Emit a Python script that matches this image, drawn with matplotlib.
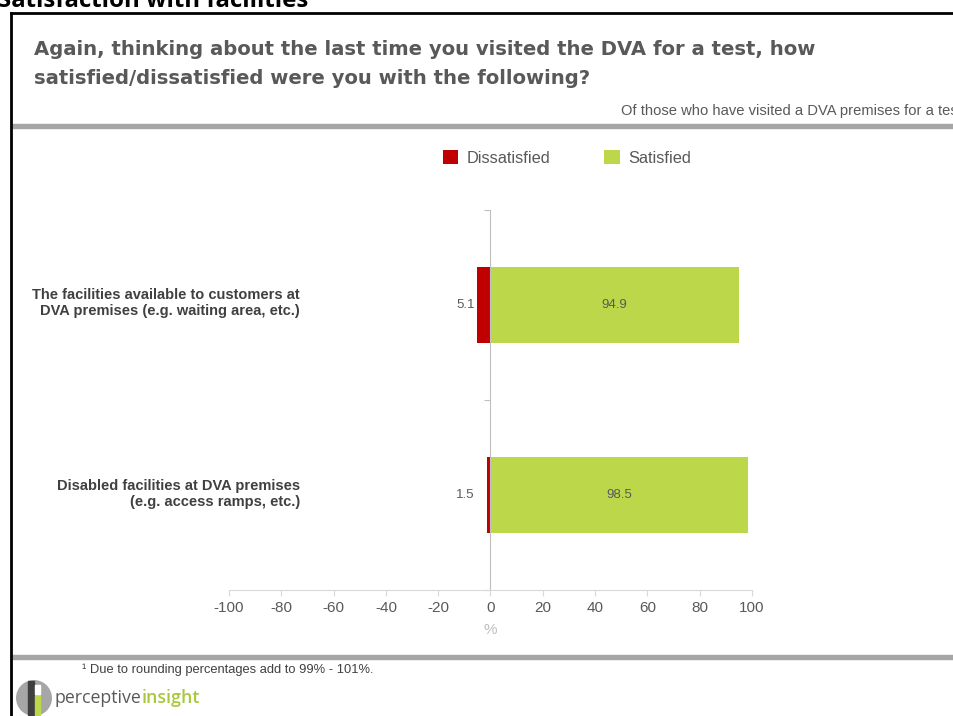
import numpy as np
import matplotlib
matplotlib.use('Agg')
from matplotlib import pyplot as plt
from matplotlib.patches import Rectangle, Circle

# data
categories = ['The facilities available to customers at\nDVA premises (e.g. waiting area, etc.)',
              'Disabled facilities at DVA premises\n(e.g. access ramps, etc.)']
dissatisfied = [5.1, 1.5]
satisfied = [94.9, 98.5]
series_names = ['Dissatisfied', 'Satisfied']
xticks = [-100, -80, -60, -40, -20, 0, 20, 40, 60, 80, 100]

RED = '#c00000'
GREEN = '#bdd74b'
GREY_TXT = '#595959'

W, H = 954, 716
fig = plt.figure(figsize=(W / 100, H / 100), dpi=100)
plt.rcParams['font.family'] = ['Liberation Sans', 'DejaVu Sans']

def fx(px):
    return px / W

def fy(py):
    return 1 - py / H

# page title (cut off at top)
fig.text(fx(-2), fy(7), 'Satisfaction with facilities', fontsize=17.3, fontweight='bold',
         family='Open Sans', va='baseline', ha='left', color='black')

# black frame
fig.add_artist(plt.Line2D([fx(11), fx(11)], [fy(13), 0], color='black', lw=2))
fig.add_artist(plt.Line2D([fx(11), 1], [fy(13), fy(13)], color='black', lw=2))

# question text
fig.text(fx(34), fy(64), 'Again, thinking about the last time you visited the DVA for a test, how\n'
         'satisfied/dissatisfied were you with the following?', fontsize=14.1, fontweight='bold',
         family='DejaVu Sans', color=GREY_TXT, va='center', ha='left',
         linespacing=1.65)
fig.text(fx(621), fy(111), 'Of those who have visited a DVA premises for a test',
         fontsize=10.6, color=GREY_TXT, va='center', ha='left')

# grey separator bars
fig.add_artist(Rectangle((fx(11), fy(128)), 1, 4 / H, color='#a6a6a6', transform=fig.transFigure))
fig.add_artist(Rectangle((fx(11), fy(659)), 1, 4 / H, color='#a6a6a6', transform=fig.transFigure))

# chart
ax = fig.add_axes([fx(229), fy(590), fx(752) - fx(229), (590 - 210) / H])
y = np.arange(len(categories))
ax.barh(y, [-d for d in dissatisfied], height=0.4, color=RED, label=series_names[0])
ax.barh(y, satisfied, height=0.4, color=GREEN, label=series_names[1])
ax.set_xlim(-100, 100)
ax.set_ylim(1.5, -0.5)
ax.set_xticks(xticks)
ax.set_xticklabels([str(t) for t in xticks])
ax.set_yticks([-0.5, 0.5, 1.5])
ax.set_yticklabels([])
ax.tick_params(axis='x', colors='#d9d9d9', labelcolor=GREY_TXT, labelsize=11, length=4, pad=4)
ax.tick_params(axis='y', colors='#bfbfbf', length=4)
for s in ['top', 'right']:
    ax.spines[s].set_visible(False)
ax.spines['bottom'].set_color('#d9d9d9')
ax.spines['left'].set_color('#bfbfbf')
ax.spines['left'].set_position(('data', 0))
ax.set_xlabel('%', color='#bfbfbf', fontsize=11, labelpad=6)

for i in range(len(categories)):
    ax.text(-9.6, y[i], f'{dissatisfied[i]:.1f}', ha='center', va='center',
            fontsize=9.5, color=GREY_TXT)
    ax.text(satisfied[i] / 2, y[i], f'{satisfied[i]:.1f}', ha='center', va='center',
            fontsize=9.5, color=GREY_TXT)

# category labels in figure coordinates
label_y = [303, 494]
for lab, py in zip(categories, label_y):
    fig.text(fx(300), fy(py), lab, ha='right', va='center', fontsize=10.5, fontweight='bold',
             color='#404040', linespacing=1.15)

# legend
fig.legend(handles=[ax.containers[0], ax.containers[1]], labels=series_names,
           loc='center left', bbox_to_anchor=(fx(428), fy(158)), ncol=2, frameon=False,
           fontsize=11.8, labelcolor=GREY_TXT, handlelength=0.95, handleheight=0.95,
           columnspacing=3.3, handletextpad=0.5)

# footnote
fig.text(fx(82), fy(670), '\u00b9 Due to rounding percentages add to 99% - 101%.', fontsize=9.3,
         color='#404040', va='center', ha='left')

# logo
lax = fig.add_axes([fx(16), 0, fx(36), 36 / H])
lax.set_xlim(0, 1)
lax.set_ylim(0, 1)
lax.set_aspect('equal')
lax.axis('off')
lax.add_patch(Circle((0.5, 0.5), 0.48, color='#a6a6a6'))
lax.add_patch(Rectangle((0.33, 0.02), 0.17, 0.96, color='#3f3f3f'))
lax.add_patch(Rectangle((0.52, 0.02), 0.15, 0.55, color='#bdd74b'))
lax.add_patch(Rectangle((0.52, 0.6), 0.15, 0.25, color='white'))
fig.text(fx(141), fy(698), 'perceptive', fontsize=12.8, color='#595959', va='center', ha='right',
         family='Open Sans')
fig.text(fx(142), fy(698), 'insight', fontsize=12.8, color='#a8c73a', va='center', ha='left',
         family='Open Sans', fontweight='semibold')

fig.savefig('out.png', dpi=100)
